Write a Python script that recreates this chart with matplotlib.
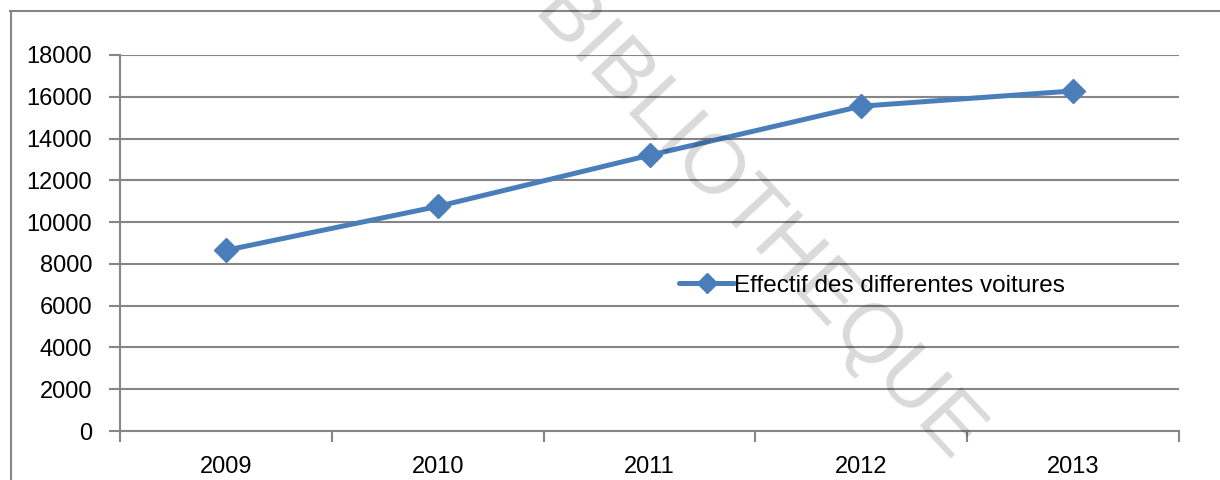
import matplotlib.pyplot as plt
from matplotlib.lines import Line2D

plt.rcParams['font.family'] = ['Liberation Sans', 'DejaVu Sans']

# Effectif par année
years = ['2009', '2010', '2011', '2012', '2013']
effectif = [8650, 10750, 13200, 15550, 16280]
y_ticks = [0, 2000, 4000, 6000, 8000, 10000, 12000, 14000, 16000, 18000]

blue = '#4a7ebb'
grey = '#868686'

fig = plt.figure(figsize=(12.2, 4.8), dpi=100)
ax = fig.add_axes([120 / 1220, 1 - 431 / 480, 1059 / 1220, 376 / 480])

x = list(range(len(years)))
ax.plot(x, effectif, color=blue, lw=3.6, marker='D', markersize=12.5,
        solid_capstyle='round', label='Effectif des differentes voitures', zorder=3)

ax.set_xlim(-0.5, len(years) - 0.5)
ax.set_ylim(0, 18000)
ax.set_yticks(y_ticks)
ax.set_yticklabels([str(v) for v in y_ticks], fontsize=17)
ax.set_xticks(x)
ax.set_xticklabels(years, fontsize=17)
ax.tick_params(axis='x', length=0, pad=18)
ax.set_xticks([i - 0.5 for i in range(len(years) + 1)], minor=True)
ax.tick_params(axis='x', which='minor', length=8, width=1.5, color=grey, direction='out')
ax.tick_params(axis='y', length=8, width=1.5, color=grey, direction='out', pad=12)

ax.grid(axis='y', color=grey, lw=1.5, zorder=0)
ax.set_axisbelow(True)
for side in ['top', 'right']:
    ax.spines[side].set_visible(False)
for side in ['left', 'bottom']:
    ax.spines[side].set_color(grey)
    ax.spines[side].set_linewidth(1.5)

ax.legend(loc='center left', bbox_to_anchor=(0.516, 0.386), frameon=False,
          fontsize=17.5, handlelength=2.3, handletextpad=0.0, borderpad=0,
          markerscale=0.85)

# cadre du graphique
fig.add_artist(Line2D([10.5 / 1220, 10.5 / 1220], [0, 1 - 11 / 480], color=grey, lw=1.5))
fig.add_artist(Line2D([10 / 1220, 1], [1 - 11 / 480, 1 - 11 / 480], color=grey, lw=1.5))

# filigrane
fig.text(0.62, 0.53, 'BIBLIOTHEQUE', fontsize=60, color='black', alpha=0.15,
         rotation=-47, ha='center', va='center', zorder=10)

fig.savefig('out.png', dpi=100)
